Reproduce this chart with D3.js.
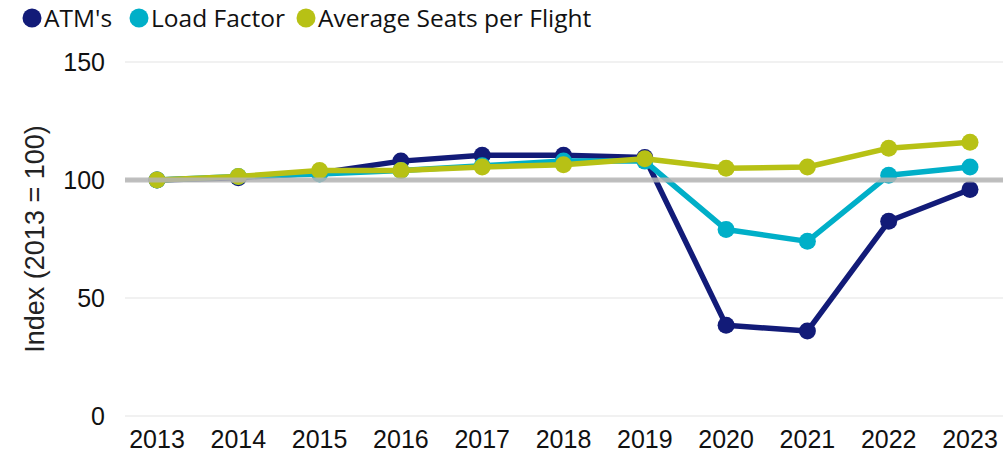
<!DOCTYPE html>
<html>
<head>
<meta charset="utf-8">
<title>Index (2013 = 100)</title>
<script src="https://d3js.org/d3.v7.min.js"></script>
<style>
body { margin: 0; background: #fff; }
svg { display: block; }
</style>
</head>
<body>
<div id="chart"></div>
<script>
var years = [2013, 2014, 2015, 2016, 2017, 2018, 2019, 2020, 2021, 2022, 2023];
var atms = [100, 101, 103, 108, 110.5, 110.5, 109.5, 38.5, 36, 82.5, 96];
var loadFactor = [100, 101.5, 102.5, 104, 106, 108, 108, 79, 74, 102, 105.5];
var avgSeats = [100, 101.5, 104, 104, 105.5, 106.5, 109, 105, 105.5, 113.5, 116];
var yTicks = [0, 50, 100, 150];

var series = [
  { name: "ATM's", values: atms, color: "#121b78" },
  { name: "Load Factor", values: loadFactor, color: "#00afc8" },
  { name: "Average Seats per Flight", values: avgSeats, color: "#b7c115" }
];

var width = 1003, height = 455;
var margin = { top: 62, right: 0, bottom: 39, left: 125 };

var svg = d3.select("#chart").append("svg")
  .attr("width", width)
  .attr("height", height);

var x = d3.scalePoint()
  .domain(years)
  .range([157, 970]);

var y = d3.scaleLinear()
  .domain([0, 150])
  .range([height - margin.bottom, margin.top]);

// grid lines
svg.append("g")
  .selectAll("line")
  .data(yTicks)
  .enter()
  .append("line")
    .attr("x1", margin.left)
    .attr("x2", width)
    .attr("y1", function(d) { return y(d); })
    .attr("y2", function(d) { return y(d); })
    .style("stroke", "#ededed")
    .style("stroke-width", 1.5);

// y tick labels
svg.append("g")
  .selectAll("text")
  .data(yTicks)
  .enter()
  .append("text")
    .text(function(d) { return d; })
    .attr("x", 105)
    .attr("y", function(d) { return y(d); })
    .attr("dy", "0.36em")
    .style("text-anchor", "end")
    .style("font-family", "Liberation Sans, Arial, sans-serif")
    .style("font-size", "25px")
    .style("fill", "#111");

// x tick labels
svg.append("g")
  .selectAll("text")
  .data(years)
  .enter()
  .append("text")
    .text(function(d) { return d; })
    .attr("x", function(d) { return x(d); })
    .attr("y", 448)
    .style("text-anchor", "middle")
    .style("font-family", "Liberation Sans, Arial, sans-serif")
    .style("font-size", "25px")
    .style("fill", "#111");

// y axis title
svg.append("text")
  .text("Index (2013 = 100)")
  .attr("transform", "translate(34," + y(75) + ") rotate(-90)")
  .attr("dy", "0.36em")
  .style("text-anchor", "middle")
  .style("font-family", "Liberation Sans, Arial, sans-serif")
  .style("font-size", "27px")
  .style("fill", "#222");

var line = d3.line()
  .x(function(d, i) { return x(years[i]); })
  .y(function(d) { return y(d); });

series.forEach(function(s) {
  var g = svg.append("g");
  g.append("path")
    .datum(s.values)
    .attr("d", line)
    .style("fill", "none")
    .style("stroke", s.color)
    .style("stroke-width", 5.5)
    .style("stroke-linejoin", "round");
  g.selectAll("circle")
    .data(s.values)
    .enter()
    .append("circle")
      .attr("cx", function(d, i) { return x(years[i]); })
      .attr("cy", function(d) { return y(d); })
      .attr("r", 8.5)
      .style("fill", s.color);
});

// baseline at 100
svg.append("line")
  .attr("x1", margin.left)
  .attr("x2", width)
  .attr("y1", y(100))
  .attr("y2", y(100))
  .style("stroke", "#b4b4b4")
  .style("stroke-width", 5)
  .style("opacity", 0.85);

// legend
var legend = svg.append("g");
var legendX = [32, 139, 306];
series.forEach(function(s, i) {
  legend.append("circle")
    .attr("cx", legendX[i])
    .attr("cy", 18)
    .attr("r", 9.5)
    .style("fill", s.color);
  legend.append("text")
    .text(s.name)
    .attr("x", legendX[i] + 12)
    .attr("y", 18)
    .attr("dy", "0.36em")
    .style("font-family", "Open Sans, sans-serif")
    .style("font-size", "24.5px")
    .style("fill", "#111");
});
</script>
</body>
</html>
